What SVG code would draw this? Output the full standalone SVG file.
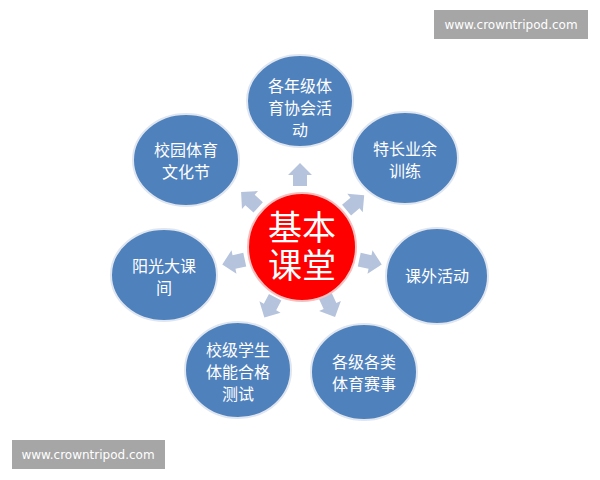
<svg xmlns="http://www.w3.org/2000/svg" width="600" height="480" viewBox="0 0 600 480">
<style>
.sat{fill:#4f81bd;stroke:#dfe6f0;stroke-width:2}
.t{fill:#fff;font-family:"Noto Sans CJK SC",sans-serif;font-size:16px;text-anchor:middle}
.ct{fill:#fff;font-family:"Liberation Serif","Noto Sans CJK SC",serif;font-size:34px;text-anchor:middle}
.arr{fill:#b5c3dc}
.wm{fill:#a6a6a6}
.wt{fill:#fff;font-family:"DejaVu Sans",sans-serif;font-size:12px;text-anchor:middle}
</style>
<defs>
<path id="a" d="M0,-12 L12,0 L7,0 L7,11 L-7,11 L-7,0 L-12,0 Z"/>
</defs>
<rect width="600" height="480" fill="#fff"/>
<g id="connectors" class="arr">
<use href="#a" transform="translate(300,175)"/>
<use href="#a" transform="translate(355,203) rotate(50)"/>
<use href="#a" transform="translate(370,262) rotate(102)"/>
<use href="#a" transform="translate(330,306) rotate(155)"/>
<use href="#a" transform="translate(270,307) rotate(208)"/>
<use href="#a" transform="translate(234,262) rotate(258)"/>
<use href="#a" transform="translate(250,200) rotate(312)"/>
</g>
<g id="center"><circle cx="302" cy="247" r="54" fill="#f00" stroke="#f4c0c0" stroke-width="2"/>
<text class="ct" x="302" y="240">基本</text><text class="ct" x="302" y="278">课堂</text></g>
<g id="n1"><ellipse class="sat" cx="300" cy="101" rx="53" ry="46"/><text class="t" x="300" y="92">各年级体</text><text class="t" x="300" y="114">育协会活</text><text class="t" x="300" y="136">动</text></g>
<g id="n2"><ellipse class="sat" cx="405" cy="158" rx="53" ry="46"/><text class="t" x="405" y="155">特长业余</text><text class="t" x="405" y="177">训练</text></g>
<g id="n3"><ellipse class="sat" cx="437" cy="276" rx="51" ry="48"/><text class="t" x="437" y="282">课外活动</text></g>
<g id="n4"><ellipse class="sat" cx="364" cy="372" rx="53" ry="48"/><text class="t" x="364" y="368">各级各类</text><text class="t" x="364" y="390">体育赛事</text></g>
<g id="n5"><ellipse class="sat" cx="238" cy="370" rx="53" ry="48"/><text class="t" x="238" y="356">校级学生</text><text class="t" x="238" y="378">体能合格</text><text class="t" x="238" y="400">测试</text></g>
<g id="n6"><ellipse class="sat" cx="164" cy="275" rx="53" ry="46"/><text class="t" x="164" y="272">阳光大课</text><text class="t" x="164" y="294">间</text></g>
<g id="n7"><ellipse class="sat" cx="186" cy="160" rx="53" ry="46"/><text class="t" x="186" y="156">校园体育</text><text class="t" x="186" y="178">文化节</text></g>
<g id="wm"><rect class="wm" x="434" y="10" width="154" height="29"/><text class="wt" x="511" y="29">www.crowntripod.com</text>
<rect class="wm" x="12" y="440" width="153" height="29"/><text class="wt" x="88" y="459">www.crowntripod.com</text></g>
</svg>
